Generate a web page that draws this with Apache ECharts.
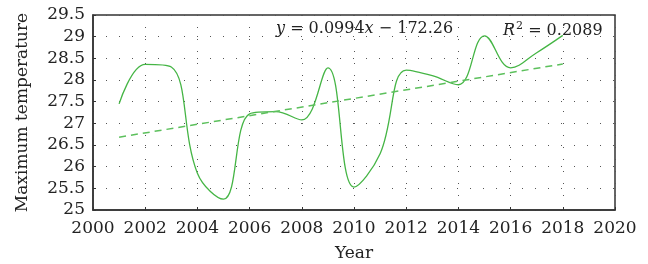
<!DOCTYPE html>
<html>
<head>
<meta charset="utf-8">
<script src="https://cdn.jsdelivr.net/npm/echarts@6/dist/echarts.min.js"></script>
<style>
  html, body { margin: 0; padding: 0; background: #fff; }
  #chart { width: 648px; height: 264px; }
</style>
</head>
<body>
<div id="chart"></div>
<script>
// values
const years = [2001, 2002, 2003, 2004, 2005, 2006, 2007, 2008, 2009,
               2010, 2011, 2012, 2013, 2014, 2015, 2016, 2017, 2018];
const maxTemp = [27.45, 28.36, 28.3, 25.85, 25.25, 27.22, 27.27, 27.08, 28.28,
                 25.53, 26.3, 28.23, 28.1, 27.89, 29.02, 28.28, 28.63, 29.03];
const trendYears = [2001, 2018];
const trendValues = [26.68, 28.37];

const serif = '"DejaVu Serif", "Liberation Serif", serif';
const chart = echarts.init(document.getElementById('chart'));

chart.setOption({
  animation: false,
  grid: {
    left: 93, right: 33, top: 15, bottom: 54,
    outerBoundsMode: 'none',
    show: true,
    borderColor: '#333',
    borderWidth: 1.5
  },
  xAxis: {
    type: 'value',
    min: 2000, max: 2020, interval: 2,
    name: 'Year',
    nameLocation: 'middle',
    nameGap: 35,
    nameTextStyle: { fontFamily: serif, fontSize: 17, color: '#222' },
    axisLine: { show: true, lineStyle: { color: '#333', width: 1.5 } },
    axisTick: { show: true, inside: true, length: 3, lineStyle: { color: '#333' } },
    axisLabel: { fontFamily: serif, fontSize: 17, color: '#222', margin: 10, formatter: v => String(v) },
    splitLine: { show: true, lineStyle: { color: '#555', type: [1, 11], width: 1 } }
  },
  yAxis: {
    type: 'value',
    min: 25, max: 29.5, interval: 0.5,
    name: 'Maximum temperature',
    nameLocation: 'middle',
    nameGap: 62,
    nameTextStyle: { fontFamily: serif, fontSize: 17, color: '#222' },
    axisLine: { show: true, lineStyle: { color: '#333', width: 1.5 } },
    axisTick: { show: true, inside: true, length: 3, lineStyle: { color: '#333' } },
    axisLabel: { fontFamily: serif, fontSize: 17, color: '#222', margin: 8 },
    splitLine: { show: true, lineStyle: { color: '#555', type: [1, 12], width: 1 } }
  },
  graphic: [
    {
      type: 'text', left: 276, top: 21,
      style: {
        text: '{i|y} = 0.0994{i|x} − 172.26',
        font: '16px ' + serif, fill: '#222',
        rich: { i: { fontStyle: 'italic', fontFamily: serif, fontSize: 16, fill: '#222' } }
      }
    },
    {
      type: 'text', left: 503, top: 21,
      style: {
        text: '{i|R}{s|2} = 0.2089',
        font: '16px ' + serif, fill: '#222',
        rich: {
          i: { fontStyle: 'italic', fontFamily: serif, fontSize: 16, fill: '#222' },
          s: { fontFamily: serif, fontSize: 11, verticalAlign: 'top', padding: [0, 0, 8, 1], fill: '#222' }
        }
      }
    }
  ],
  series: [
    {
      type: 'line',
      data: years.map((y, i) => [y, maxTemp[i]]),
      smooth: 0.4,
      showSymbol: false,
      lineStyle: { color: '#45b545', width: 1.3 }
    },
    {
      type: 'line',
      data: trendYears.map((y, i) => [y, trendValues[i]]),
      showSymbol: false,
      lineStyle: { color: '#5cc05c', width: 1.5, type: [7, 5] }
    }
  ]
});
</script>
</body>
</html>
